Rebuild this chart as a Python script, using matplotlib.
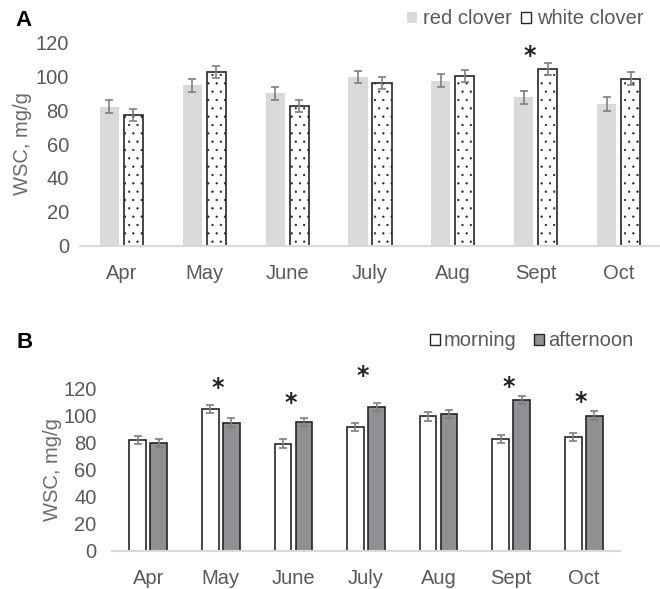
import matplotlib
matplotlib.use("Agg")
import matplotlib.pyplot as plt
from matplotlib.patches import Patch
import matplotlib.transforms as mtransforms
import numpy as np

plt.rcParams['font.family'] = ['Liberation Sans', 'DejaVu Sans']
plt.rcParams['hatch.linewidth'] = 0.4
plt.rcParams['hatch.color'] = '#333333'

months = ["Apr", "May", "June", "July", "Aug", "Sept", "Oct"]

# Panel A
red_clover = [82.1, 94.6, 90.0, 99.7, 97.3, 87.7, 83.5]
red_clover_err = [3.8, 3.7, 3.9, 3.7, 3.8, 3.9, 4.0]
white_clover = [77.2, 102.5, 82.5, 96.3, 100.1, 104.4, 98.7]
white_clover_err = [3.7, 3.7, 3.7, 3.6, 3.7, 3.7, 3.8]
sig_a = ["Sept"]
sig_a_y = [114.5]

# Panel B
morning = [81.6, 104.4, 79.2, 91.5, 99.2, 82.6, 84.3]
morning_err = [3.0, 3.0, 3.0, 3.0, 3.0, 3.0, 3.0]
afternoon = [79.4, 94.7, 95.0, 106.4, 100.7, 111.5, 99.9]
afternoon_err = [3.0, 3.0, 3.0, 3.0, 3.0, 3.0, 3.0]
sig_b = ["May", "June", "July", "Sept", "Oct"]
sig_b_y = [123.0, 111.8, 131.8, 123.7, 112.5]

W, H = 660, 589
fig = plt.figure(figsize=(W / 100, H / 100), dpi=100)

TXT = '#595959'
LBL = '#6b6b6b'
EDGE = '#262626'
ERR = '#7f7f7f'
FS = 14.5


def px_axes(left, top, right, bottom):
    return fig.add_axes([left / W, 1 - bottom / H, (right - left) / W, (bottom - top) / H])


def style(ax):
    for s in ['top', 'right', 'left']:
        ax.spines[s].set_visible(False)
    ax.spines['bottom'].set_color('#d9d9d9')
    ax.spines['bottom'].set_linewidth(1.5)
    ax.tick_params(axis='both', length=0, labelsize=FS, labelcolor=TXT)
    ax.tick_params(axis='x', pad=13)
    ax.set_ylim(0, 120)
    ax.set_yticks(range(0, 121, 20))
    ax.set_xlim(-0.5, len(months) - 0.5)
    ax.set_xticks(np.arange(len(months)))
    ax.set_xticklabels(months)


x = np.arange(len(months))
bw = 0.23
off = 0.145
ekw = dict(ecolor=ERR, elinewidth=1.2, capsize=3, capthick=1.2)
star_shift = mtransforms.ScaledTranslation(0, -4 / 100, fig.dpi_scale_trans)


def star(ax, xv, yv):
    ax.text(xv, yv, '*', ha='center', va='center', fontsize=17, fontweight='bold',
            family='DejaVu Sans', color='#222222',
            transform=ax.transData + star_shift)


# ---- Panel A ----
axA = px_axes(80, 42.5, 660, 245.5)
style(axA)
axA.tick_params(axis='y', pad=8)
axA.bar(x - off, red_clover, bw, color='#d9d9d9', edgecolor='none',
        yerr=red_clover_err, error_kw=ekw, label='red clover')
axA.bar(x + off, white_clover, bw, color='white', edgecolor=EDGE, linewidth=1.2,
        hatch='..', yerr=white_clover_err, error_kw=ekw, label='white clover')
for m, yv in zip(sig_a, sig_a_y):
    star(axA, months.index(m) - 0.07, yv)
hA = [Patch(facecolor='#d9d9d9', edgecolor='none'),
      Patch(facecolor='white', edgecolor=EDGE, linewidth=1.0)]
axA.legend(hA, ['red clover', 'white clover'], ncol=2, frameon=False,
           fontsize=FS, labelcolor=TXT, loc='center right',
           bbox_to_anchor=(644 / W, 1 - 19 / H), bbox_transform=fig.transFigure,
           borderpad=0, borderaxespad=0, handlelength=0.5, handleheight=0.5,
           handletextpad=0.3, columnspacing=0.45)
fig.text(24 / W, 1 - 20 / H, 'A', fontsize=16, fontweight='bold', ha='center', va='center')
fig.text(23 / W, 1 - 144 / H, 'WSC, mg/g', rotation=90, fontsize=FS, color=LBL,
         ha='center', va='center')

# ---- Panel B ----
axB = px_axes(112, 388.3, 620, 550.7)
style(axB)
axB.tick_params(axis='y', pad=11)
axB.bar(x - off, morning, bw, color='white', edgecolor=EDGE, linewidth=1.2,
        yerr=morning_err, error_kw=ekw, label='morning')
axB.bar(x + off, afternoon, bw, color='#8f9093', edgecolor=EDGE, linewidth=1.2,
        yerr=afternoon_err, error_kw=ekw, label='afternoon')
for m, yv in zip(sig_b, sig_b_y):
    star(axB, months.index(m) - 0.04, yv)
hB = [Patch(facecolor='white', edgecolor=EDGE, linewidth=1.0),
      Patch(facecolor='#8f9093', edgecolor=EDGE, linewidth=1.0)]
axB.legend(hB, ['morning', 'afternoon'], ncol=2, frameon=False,
           fontsize=FS, labelcolor=TXT, loc='center right',
           bbox_to_anchor=(633 / W, 1 - 341 / H), bbox_transform=fig.transFigure,
           borderpad=0, borderaxespad=0, handlelength=0.5, handleheight=0.5,
           handletextpad=0.2, columnspacing=0.85)
fig.text(25 / W, 1 - 342 / H, 'B', fontsize=16, fontweight='bold', ha='center', va='center')
fig.text(53 / W, 1 - 470 / H, 'WSC, mg/g', rotation=90, fontsize=FS, color=LBL,
         ha='center', va='center')

fig.savefig('out.png', dpi=100)
